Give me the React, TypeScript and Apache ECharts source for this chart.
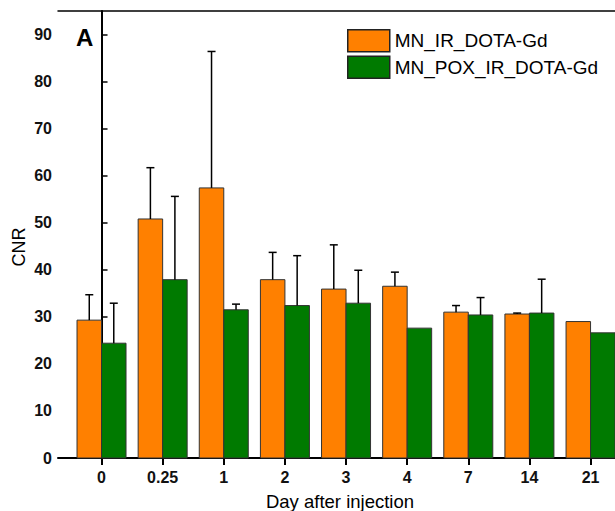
import React, { useEffect, useRef } from "react";
import * as echarts from "echarts";

// Days after injection (x categories)
const days = ["0", "0.25", "1", "2", "3", "4", "7", "14", "21"];

// Mean CNR per probe
const irMean = [29.3, 50.8, 57.4, 37.9, 35.9, 36.5, 31.0, 30.6, 29.0];
const poxMean = [24.4, 37.9, 31.5, 32.4, 32.9, 27.6, 30.4, 30.8, 26.6];

// Upper error (SD) per probe; 0 means no bar drawn
const irErr = [5.4, 10.9, 29.0, 5.8, 9.4, 3.0, 1.4, 0.2, 0];
const poxErr = [8.5, 17.7, 1.2, 10.6, 7.0, 0, 3.7, 7.2, 0];

// Y tick values
const yTicks = [0, 10, 20, 30, 40, 50, 60, 70, 80, 90];

const seriesNames = ["MN_IR_DOTA-Gd", "MN_POX_IR_DOTA-Gd"];
const colors = ["#FF8000", "#007A00"];
const FONT = "'Liberation Sans', Arial, Helvetica, sans-serif";
const BAR_W = 24.5;
const X_MIN = -0.712;
const X_MAX = 8.4;

// One bar + upward error bar per day; side -1 sits left of the tick, +1 right
function barSeries(name: string, color: string, mean: number[], err: number[], side: number) {
  return {
    type: "custom",
    name,
    xAxisIndex: 0,
    yAxisIndex: 0,
    itemStyle: { color, borderColor: "#333", borderWidth: 1 },
    encode: { x: 0, y: 1 },
    data: mean.map((m, i) => [i, m, err[i]]),
    renderItem: (_params: any, api: any) => {
      const i = api.value(0);
      const m = api.value(1);
      const e = api.value(2);
      const zero = api.coord([i, 0]);
      const top = api.coord([i, m]);
      const x0 = side < 0 ? zero[0] - BAR_W : zero[0];
      const cx = x0 + BAR_W / 2;
      const children: any[] = [
        {
          type: "rect",
          shape: { x: x0, y: top[1], width: BAR_W, height: zero[1] - top[1] },
          style: { fill: color, stroke: "#333", lineWidth: 1 },
        },
      ];
      if (e) {
        const up = api.coord([i, m + e]);
        const style = { stroke: "#000", lineWidth: 1.5 };
        children.push(
          { type: "line", shape: { x1: cx, y1: top[1], x2: cx, y2: up[1] }, style },
          { type: "line", shape: { x1: cx - 4, y1: up[1], x2: cx + 4, y2: up[1] }, style }
        );
      }
      return { type: "group", children };
    },
  };
}

export default function App() {
  const ref = useRef<HTMLDivElement>(null);

  useEffect(() => {
    if (!ref.current) return;
    const chart = echarts.init(ref.current, undefined, { renderer: "svg" });
    const idx = days.map((_, i) => i);

    chart.setOption({
      animation: false,
      backgroundColor: "#fff",
      textStyle: { fontFamily: FONT },
      grid: { left: 58, top: 11, width: 557, height: 447, outerBoundsMode: "none" },
      legend: {
        data: seriesNames,
        orient: "vertical",
        left: 342,
        top: 24,
        itemWidth: 42,
        itemHeight: 22,
        itemGap: 3,
        icon: "rect",
        itemStyle: { borderColor: "#222", borderWidth: 1.5 },
        textStyle: { fontFamily: FONT, fontSize: 19, color: "#000" },
      },
      xAxis: [
        {
          type: "value",
          min: X_MIN,
          max: X_MAX,
          position: "bottom",
          splitLine: { show: false },
          axisLine: { show: true, onZero: false, lineStyle: { color: "#000", width: 2 } },
          axisTick: { show: true, customValues: idx, length: 7, lineStyle: { color: "#000", width: 2 } },
          axisLabel: {
            customValues: idx,
            formatter: (v: number) => days[Math.round(v)] ?? "",
            fontFamily: FONT,
            fontSize: 16,
            fontWeight: "bold",
            color: "#111",
            margin: 11,
          },
        },
        {
          type: "value",
          min: X_MIN,
          max: X_MAX,
          position: "top",
          splitLine: { show: false },
          axisLine: { show: true, onZero: false, lineStyle: { color: "#000", width: 1.5 } },
          axisTick: { show: false },
          axisLabel: { show: false },
        },
      ],
      yAxis: {
        type: "value",
        min: 0,
        max: 95,
        splitLine: { show: false },
        axisLine: { show: true, lineStyle: { color: "#000", width: 2 } },
        axisTick: { show: true, inside: true, customValues: yTicks, length: 6, lineStyle: { color: "#000", width: 1.5 } },
        axisLabel: {
          customValues: yTicks,
          fontFamily: FONT,
          fontSize: 16,
          fontWeight: "bold",
          color: "#111",
          margin: 6,
        },
      },
      series: [
        barSeries(seriesNames[0], colors[0], irMean, irErr, -1),
        barSeries(seriesNames[1], colors[1], poxMean, poxErr, 1),
      ],
      graphic: [
        {
          type: "text",
          x: 76,
          y: 37,
          style: { text: "A", fontFamily: FONT, fontSize: 24, fontWeight: "bold", fill: "#000", textVerticalAlign: "middle" },
        },
        {
          type: "text",
          x: 19,
          y: 247,
          rotation: Math.PI / 2,
          style: { text: "CNR", fontFamily: FONT, fontSize: 18, fill: "#000", textAlign: "center", textVerticalAlign: "middle" },
        },
        {
          type: "text",
          x: 340,
          y: 501,
          style: { text: "Day after injection", fontFamily: FONT, fontSize: 18.5, fill: "#000", textAlign: "center", textVerticalAlign: "middle" },
        },
      ],
    });

    return () => chart.dispose();
  }, []);

  return (
    <div
      ref={ref}
      style={{ position: "fixed", left: 0, top: 0, width: 615, height: 511, background: "#fff" }}
    />
  );
}
